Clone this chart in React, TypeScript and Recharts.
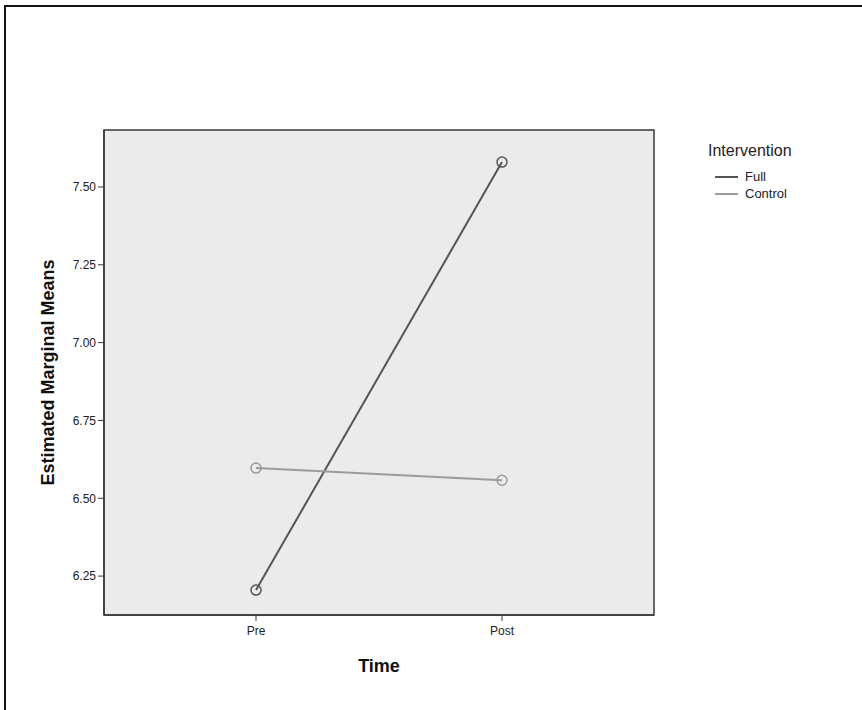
import React from "react";
import { LineChart, Line, XAxis, YAxis, ReferenceArea, Label } from "recharts";

const categories = ["Pre", "Post"];
const fullValues = [6.205, 7.58];
const controlValues = [6.597, 6.558];
const yTicks = [6.25, 6.5, 6.75, 7.0, 7.25, 7.5];
const legendTitle = "Intervention";
const seriesNames = ["Full", "Control"];

const data = categories.map((c, i) => ({
  x: i,
  name: c,
  Full: fullValues[i],
  Control: controlValues[i],
}));

const X_DOMAIN: [number, number] = [-0.618, 1.618];
const Y_DOMAIN: [number, number] = [6.125, 7.683];

const FULL_COLOR = "#555555";
const CONTROL_COLOR = "#9c9c9c";
const COLORS = [FULL_COLOR, CONTROL_COLOR];
const FONT = "'Liberation Sans', Arial, sans-serif";

const YLabel = (props: any) => {
  const vb = props.viewBox || { x: 44, y: 130, width: 60, height: 485 };
  const cx = vb.x + 4;
  const cy = vb.y + vb.height / 2;
  return (
    <text
      x={cx}
      y={cy}
      transform={`rotate(-90, ${cx}, ${cy})`}
      textAnchor="middle"
      dominantBaseline="central"
      style={{ fontFamily: FONT, fontSize: 18, fontWeight: "bold", fill: "#111" }}
    >
      Estimated Marginal Means
    </text>
  );
};

export default function App() {
  return (
    <div style={{ position: "absolute", left: 0, top: 0, width: 862, height: 710, background: "#fff" }}>
      <div
        style={{
          position: "absolute",
          left: 4,
          top: 5,
          width: 858,
          height: 705,
          borderTop: "2px solid #111",
          borderLeft: "2px solid #111",
          boxSizing: "border-box",
        }}
      />
      <LineChart
        width={862}
        height={710}
        data={data}
        margin={{ top: 130, right: 208, bottom: 60, left: 44 }}
        style={{ position: "absolute", left: 0, top: 0 }}
      >
        <ReferenceArea
          x1={X_DOMAIN[0]}
          x2={X_DOMAIN[1]}
          y1={Y_DOMAIN[0]}
          y2={Y_DOMAIN[1]}
          fill="#ebebeb"
          fillOpacity={1}
          stroke="#3a3a3a"
          strokeWidth={1.5}
        />
        <XAxis
          dataKey="x"
          type="number"
          domain={X_DOMAIN}
          ticks={[0, 1]}
          tickFormatter={(v: number) => categories[v] ?? ""}
          height={35}
          tickSize={6}
          tickMargin={5}
          axisLine={{ stroke: "#3a3a3a", strokeWidth: 1.5 }}
          tickLine={{ stroke: "#3a3a3a" }}
          tick={{ fill: "#222", fontSize: 12, fontFamily: FONT }}
          allowDataOverflow
        >
          <Label
            value="Time"
            position="insideBottom"
            offset={-22}
            style={{ fontFamily: FONT, fontSize: 18, fontWeight: "bold", fill: "#111" }}
          />
        </XAxis>
        <YAxis
          type="number"
          domain={Y_DOMAIN}
          ticks={yTicks}
          tickFormatter={(v: number) => v.toFixed(2)}
          width={60}
          tickSize={6}
          axisLine={{ stroke: "#3a3a3a", strokeWidth: 1.5 }}
          tickLine={{ stroke: "#3a3a3a" }}
          tick={{ fill: "#222", fontSize: 12, fontFamily: FONT }}
          allowDataOverflow
        >
          <Label content={<YLabel />} />
        </YAxis>
        <Line
          dataKey="Full"
          stroke={FULL_COLOR}
          strokeWidth={2}
          dot={{ r: 5, stroke: FULL_COLOR, strokeWidth: 1.5, fill: "none" }}
          isAnimationActive={false}
        />
        <Line
          dataKey="Control"
          stroke={CONTROL_COLOR}
          strokeWidth={2}
          dot={{ r: 5, stroke: CONTROL_COLOR, strokeWidth: 1.5, fill: "none" }}
          isAnimationActive={false}
        />
      </LineChart>
      <div style={{ position: "absolute", left: 708, top: 141, fontFamily: FONT, color: "#222" }}>
        <div style={{ fontSize: 16, lineHeight: "20px", marginBottom: 7 }}>{legendTitle}</div>
        {seriesNames.map((name, i) => (
          <div key={name} style={{ display: "flex", alignItems: "center", height: 17, fontSize: 13, marginLeft: 7 }}>
            <div style={{ width: 23, height: 0, borderTop: `2px solid ${COLORS[i]}`, marginRight: 7 }} />
            <span>{name}</span>
          </div>
        ))}
      </div>
    </div>
  );
}
